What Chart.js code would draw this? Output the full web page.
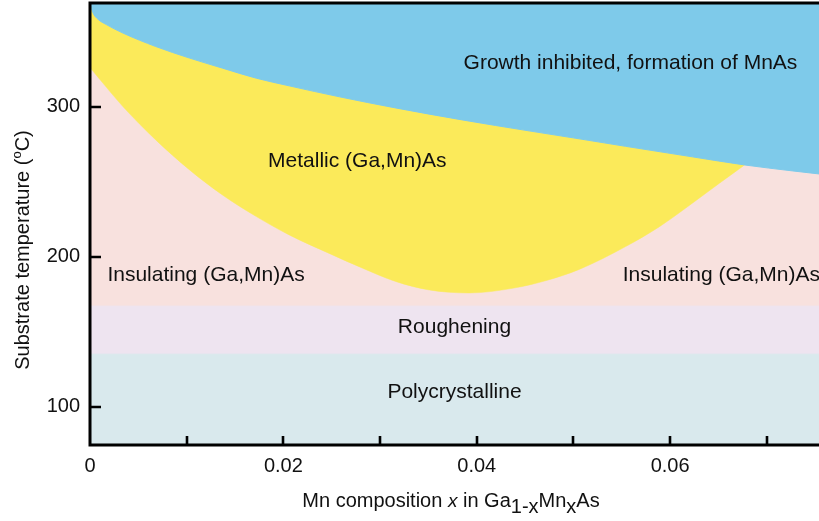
<!DOCTYPE html>
<html>
<head>
<meta charset="utf-8">
<title>(Ga,Mn)As growth diagram</title>
<script src="https://cdn.jsdelivr.net/npm/chart.js@4.4.1/dist/chart.umd.min.js"></script>
<style>
  html, body { margin: 0; padding: 0; background: #ffffff; }
  #wrap { width: 819px; height: 521px; }
</style>
</head>
<body>
<div id="wrap"><canvas id="chart" width="819" height="521"></canvas></div>
<script>
// Mn composition x and substrate temperature (°C) along the phase boundaries

// upper limit: above it growth is inhibited and MnAs forms
const growthX = [0, 0.0003, 0.0008, 0.0017, 0.0034, 0.0068, 0.0103, 0.0137, 0.0172, 0.0206, 0.0258, 0.0316, 0.0385, 0.0454, 0.0506, 0.0554, 0.0623, 0.0677, 0.0727, 0.0754];
const growthT = [368.5, 362.5, 358.3, 354.6, 349.0, 340.0, 332.3, 325.6, 318.9, 313.8, 306.5, 299.1, 291.1, 283.8, 278.5, 273.5, 266.5, 261.1, 257.1, 255.1];

// lower edge of the metallic window
const metalX = [0, 0.0017, 0.0034, 0.0068, 0.0103, 0.0137, 0.0172, 0.0206, 0.0248, 0.0282, 0.0316, 0.0351, 0.0392, 0.0437, 0.0472, 0.0506, 0.0554, 0.0589, 0.0623, 0.0651, 0.0677];
const metalT = [326.0, 312.8, 300.0, 277.8, 257.8, 241.1, 226.7, 214.5, 202.0, 192.3, 183.5, 177.8, 175.8, 178.9, 184.1, 191.5, 206.7, 220.0, 235.6, 248.9, 261.1];

// horizontal limits of the low-temperature regimes
const roughTop = 167;   // roughening below this
const polyTop = 135;    // polycrystalline below this

// axes
const xMin = 0, xMax = 0.0754;
const yMin = 74.5, yMax = 369;
const xTicks = [0, 0.01, 0.02, 0.03, 0.04, 0.05, 0.06, 0.07];
const xTickLabels = ['0', '', '0.02', '', '0.04', '', '0.06', ''];
const yTicks = [100, 200, 300];
const yTickLabels = ['100', '200', '300'];

// region names and where they sit (x, °C)
const regionNames = ['Growth inhibited, formation of MnAs', 'Metallic (Ga,Mn)As', 'Insulating (Ga,Mn)As', 'Insulating (Ga,Mn)As', 'Roughening', 'Polycrystalline'];
const regionX = [0.0559, 0.02765, 0.0018, 0.0551, 0.0377, 0.0377];
const regionT = [329.0, 263.5, 187.6, 187.6, 153.3, 109.6];
const regionAlign = ['center', 'center', 'left', 'left', 'center', 'center'];

const FONT = "'Liberation Sans', Arial, Helvetica, sans-serif";
const colors = {
  growth: '#7ecaea',
  metal: '#fbea5a',
  insul: '#f8e1de',
  rough: '#eee4f0',
  poly: '#d9e9ed'
};

const pts = (xs, ys) => xs.map((x, i) => ({ x: x, y: ys[i] }));
const flat = (y) => [{ x: xMin, y: y }, { x: xMax, y: y }];

function region(data, color, fill, order) {
  return {
    data: data,
    fill: fill,
    backgroundColor: color,
    borderColor: color,
    borderWidth: 1,
    pointRadius: 0,
    pointHoverRadius: 0,
    cubicInterpolationMode: 'monotone',
    order: order
  };
}

// axis frame, inward ticks, titles and region names
const decor = {
  id: 'decor',
  afterDatasetsDraw(chart) {
    const { ctx, scales } = chart;
    const xs = scales.x, ys = scales.y;
    ctx.save();
    ctx.fillStyle = '#111';
    ctx.font = '21px ' + FONT;
    ctx.textBaseline = 'middle';
    regionNames.forEach((name, i) => {
      ctx.textAlign = regionAlign[i];
      ctx.fillText(name, xs.getPixelForValue(regionX[i]), ys.getPixelForValue(regionT[i]));
    });
    ctx.restore();
  },
  afterDraw(chart) {
    const { ctx, chartArea: a, scales } = chart;
    const xs = scales.x, ys = scales.y;
    ctx.save();
    ctx.strokeStyle = '#000';
    ctx.lineCap = 'butt';
    // frame: left, bottom and top
    ctx.lineWidth = 3;
    ctx.beginPath();
    ctx.moveTo(a.right + 2, a.top);
    ctx.lineTo(a.left, a.top);
    ctx.lineTo(a.left, a.bottom);
    ctx.lineTo(a.right + 2, a.bottom);
    ctx.stroke();
    // inward ticks
    ctx.lineWidth = 2.6;
    ctx.beginPath();
    xTicks.forEach(v => {
      if (v === xMin) return;
      const px = Math.round(xs.getPixelForValue(v));
      ctx.moveTo(px, a.bottom);
      ctx.lineTo(px, a.bottom - 9);
    });
    yTicks.forEach(v => {
      const py = Math.round(ys.getPixelForValue(v));
      ctx.moveTo(a.left, py);
      ctx.lineTo(a.left + 11, py);
    });
    ctx.stroke();

    // x-axis title with subscripts
    const xParts = [
      { t: 'Mn composition ', size: 20, style: '', dy: 0 },
      { t: 'x', size: 19, style: 'italic ', dy: 0 },
      { t: ' in Ga', size: 20, style: '', dy: 0 },
      { t: '1-x', size: 20, style: '', dy: 6 },
      { t: 'Mn', size: 20, style: '', dy: 0 },
      { t: 'x', size: 20, style: '', dy: 6 },
      { t: 'As', size: 20, style: '', dy: 0 }
    ];
    drawParts(ctx, xParts, 451, 507, 0);

    // y-axis title with raised degree mark
    const yParts = [
      { t: 'Substrate temperature (', size: 20, style: '', dy: 0 },
      { t: 'o', size: 13, style: '', dy: -8 },
      { t: 'C)', size: 20, style: '', dy: 0 }
    ];
    drawParts(ctx, yParts, 29, 250, -Math.PI / 2);
    ctx.restore();
  }
};

function drawParts(ctx, parts, cx, baseY, rot) {
  ctx.save();
  ctx.translate(cx, baseY);
  ctx.rotate(rot);
  ctx.fillStyle = '#111';
  ctx.textBaseline = 'alphabetic';
  ctx.textAlign = 'left';
  let total = 0;
  parts.forEach(p => {
    ctx.font = p.style + p.size + 'px ' + FONT;
    p.w = ctx.measureText(p.t).width;
    total += p.w;
  });
  let x = -total / 2;
  parts.forEach(p => {
    ctx.font = p.style + p.size + 'px ' + FONT;
    ctx.fillText(p.t, x, p.dy);
    x += p.w;
  });
  ctx.restore();
}

const upper = pts(growthX, growthT);
const upperToCross = upper.filter(p => p.x <= metalX[metalX.length - 1]);

new Chart(document.getElementById('chart'), {
  type: 'line',
  data: {
    datasets: [
      // 0: insulating background below the growth limit
      region(upper, colors.insul, 'start', 6),
      // 1: metallic window, filled down to its lower edge (dataset 2)
      region(upperToCross, colors.metal, 2, 5),
      // 2: lower edge of the metallic window
      Object.assign(region(pts(metalX, metalT), colors.metal, false, 4), { borderWidth: 0.5 }),
      // 3, 4: roughening and polycrystalline bands
      region(flat(roughTop), colors.rough, 'start', 3),
      region(flat(polyTop), colors.poly, 'start', 2),
      // 5: growth inhibited above the upper limit
      region(upper, colors.growth, 'end', 1)
    ]
  },
  options: {
    responsive: false,
    devicePixelRatio: 1,
    animation: false,
    events: [],
    layout: { padding: { top: 3, right: 0, bottom: 0, left: 0 } },
    plugins: {
      legend: { display: false },
      tooltip: { enabled: false },
      filler: { propagate: false }
    },
    scales: {
      x: {
        type: 'linear',
        min: xMin,
        max: xMax,
        afterBuildTicks: s => { s.ticks = xTicks.map(v => ({ value: v })); },
        afterFit: s => { s.height = 76; s.paddingLeft = 0; s.paddingRight = 0; },
        grid: { display: false, drawTicks: false },
        border: { display: false },
        ticks: {
          autoSkip: false,
          maxRotation: 0,
          padding: 9,
          color: '#111',
          font: { family: FONT, size: 20 },
          callback: (v, i) => xTickLabels[i]
        }
      },
      y: {
        type: 'linear',
        min: yMin,
        max: yMax,
        afterBuildTicks: s => { s.ticks = yTicks.map(v => ({ value: v })); },
        afterFit: s => { s.width = 90; s.paddingTop = 0; s.paddingBottom = 0; },
        grid: { display: false, drawTicks: false },
        border: { display: false },
        ticks: {
          padding: 10,
          color: '#111',
          font: { family: FONT, size: 20 },
          callback: (v, i) => yTickLabels[i]
        }
      }
    }
  },
  plugins: [decor]
});
</script>
</body>
</html>
